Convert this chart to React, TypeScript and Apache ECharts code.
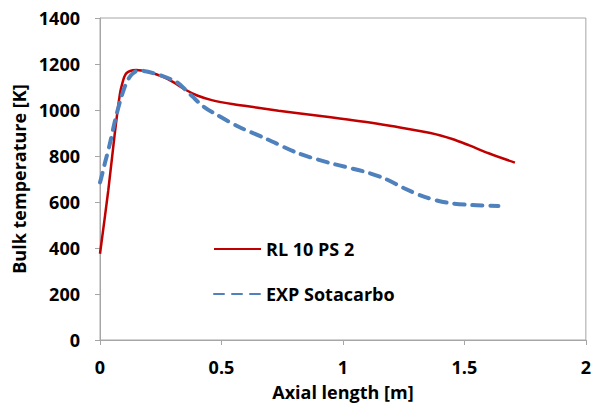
import React, { useEffect, useRef } from "react";
import * as echarts from "echarts";

const seriesNames = ["RL 10 PS 2", "EXP Sotacarbo"];

const rlX = [0, 0.034, 0.061, 0.082, 0.095, 0.105, 0.116, 0.135, 0.15, 0.2, 0.257, 0.3, 0.354, 0.4, 0.46, 0.55, 0.65, 0.735, 0.816, 0.95, 1.088, 1.2, 1.36, 1.45, 1.52, 1.6, 1.708];
const rlY = [375, 650, 899, 1070, 1128, 1155, 1166, 1173, 1174, 1165, 1145, 1122, 1087, 1063, 1043, 1025, 1010, 997, 986, 968, 949, 930, 900, 874, 846, 812, 771];

const expX = [0, 0.004, 0.02, 0.041, 0.061, 0.082, 0.102, 0.12, 0.136, 0.156, 0.18, 0.245, 0.313, 0.35, 0.381, 0.42, 0.463, 0.571, 0.68, 0.816, 0.952, 1.088, 1.17, 1.252, 1.333, 1.429, 1.524, 1.64];
const expY = [685, 700, 768, 855, 950, 1035, 1101, 1140, 1160, 1171, 1170, 1152, 1123, 1090, 1058, 1020, 990, 927, 877, 812, 768, 732, 703, 660, 623, 597, 587, 583];

const xTicks = { min: 0, max: 2, interval: 0.5 };
const yTicks = { min: 0, max: 1400, interval: 200 };

const FONT = "Open Sans";
const AXIS_COLOR = "#A6A6A6";

export default function App() {
  const ref = useRef<HTMLDivElement>(null);
  useEffect(() => {
    if (!ref.current) return;
    const chart = echarts.init(ref.current, undefined, { renderer: "svg" });
    const zip = (xs: number[], ys: number[]) => xs.map((x, i) => [x, ys[i]]);
    chart.setOption({
      animation: false,
      backgroundColor: "#ffffff",
      grid: {
        left: 100,
        right: 4,
        top: 18,
        bottom: 66,
        show: true,
        borderColor: AXIS_COLOR,
        borderWidth: 1,
      },
      legend: {
        orient: "vertical",
        left: 213,
        top: 239,
        padding: 0,
        itemWidth: 47,
        itemHeight: 20,
        itemGap: 25,
        data: seriesNames,
        itemStyle: { opacity: 0 },
        textStyle: {
          fontFamily: FONT,
          fontWeight: "bold",
          fontSize: 18,
          color: "#000",
          lineHeight: 20,
          padding: [0, 0, 0, 0],
        },
      },
      xAxis: {
        type: "value",
        min: xTicks.min,
        max: xTicks.max,
        interval: xTicks.interval,
        name: "Axial length [m]",
        nameLocation: "middle",
        nameGap: 43,
        nameTextStyle: { fontFamily: FONT, fontWeight: "bold", fontSize: 18, color: "#000" },
        axisLine: { show: true, lineStyle: { color: AXIS_COLOR } },
        axisTick: { show: true, inside: false, length: 5, lineStyle: { color: AXIS_COLOR } },
        splitLine: { show: false },
        axisLabel: {
          margin: 18,
          fontFamily: FONT,
          fontWeight: "bold",
          fontSize: 18,
          color: "#000",
          formatter: (v: number) => String(v),
        },
      },
      yAxis: {
        type: "value",
        min: yTicks.min,
        max: yTicks.max,
        interval: yTicks.interval,
        name: "Bulk temperature [K]",
        nameLocation: "middle",
        nameGap: 68,
        nameTextStyle: { fontFamily: FONT, fontWeight: "bold", fontSize: 18, color: "#000" },
        axisLine: { show: true, lineStyle: { color: AXIS_COLOR } },
        axisTick: { show: true, inside: false, length: 5, lineStyle: { color: AXIS_COLOR } },
        splitLine: { show: false },
        axisLabel: {
          margin: 20,
          fontFamily: FONT,
          fontWeight: "bold",
          fontSize: 18,
          color: "#000",
          formatter: (v: number) => String(v),
        },
      },
      series: [
        {
          name: seriesNames[0],
          type: "line",
          data: zip(rlX, rlY),
          smooth: 0.3,
          symbol: "none",
          showSymbol: false,
          lineStyle: { color: "#C00000", width: 2.5 },
          itemStyle: { color: "#C00000" },
          z: 2,
        },
        {
          name: seriesNames[1],
          type: "line",
          data: zip(expX, expY),
          smooth: 0.3,
          symbol: "none",
          showSymbol: false,
          lineStyle: { color: "#4F81BD", width: 4, type: [10, 8], cap: "round" },
          itemStyle: { color: "#4F81BD" },
          z: 3,
        },
      ],
    });
    return () => chart.dispose();
  }, []);
  return (
    <div
      ref={ref}
      style={{ position: "fixed", left: 0, top: 0, width: 594, height: 406 }}
    />
  );
}
